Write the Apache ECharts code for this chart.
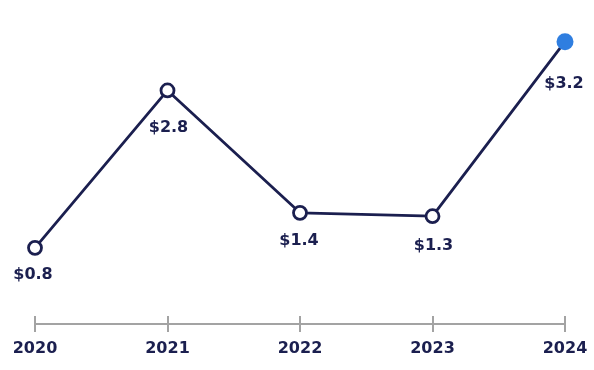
<!DOCTYPE html>
<html>
<head>
<meta charset="utf-8">
<style>
  html, body { margin: 0; padding: 0; background: #ffffff; }
  #chart { width: 594px; height: 370px; }
</style>
<script src="https://cdn.jsdelivr.net/npm/echarts@6/dist/echarts.min.js"></script>
</head>
<body>
<div id="chart"></div>
<script>
// Data
const years = ['2020', '2021', '2022', '2023', '2024'];
const values = [0.89, 2.73, 1.30, 1.26, 3.30];
const valueLabels = ['$0.8', '$2.8', '$1.4', '$1.3', '$3.2'];

// Styles (kept apart from data)
const NAVY = '#1b1f4f';
const BLUE = '#2f7ee0';
const AXIS_GREY = '#a3a3a3';
const labelOffsets = [[-2, 27], [1, 37], [-1, 28], [1, 29.5], [-1, 42]];
const FONT = '"DejaVu Sans", sans-serif';

const chart = echarts.init(document.getElementById('chart'), null, { renderer: 'canvas' });

const seriesData = values.map((v, i) => {
  const last = i === values.length - 1;
  return {
    value: v,
    symbolSize: last ? 17 : 13,
    itemStyle: last
      ? { color: BLUE, borderWidth: 0 }
      : { color: '#ffffff', borderColor: NAVY, borderWidth: 2.8 },
    label: {
      show: true,
      position: 'inside',
      offset: labelOffsets[i],
      formatter: () => valueLabels[i]
    }
  };
});

chart.setOption({
  animation: false,
  backgroundColor: '#ffffff',
  grid: { left: 35, right: 29, top: 24.6, bottom: 46, containLabel: false },
  xAxis: [{
    type: 'category',
    data: years,
    boundaryGap: false,
    position: 'bottom',
    axisLine: { show: true, lineStyle: { color: AXIS_GREY, width: 2 } },
    axisTick: { show: true, inside: false, length: 8, lineStyle: { color: AXIS_GREY, width: 2 } },
    axisLabel: {
      margin: 17,
      color: NAVY,
      fontFamily: FONT,
      fontWeight: 'bold',
      fontSize: 16
    },
    splitLine: { show: false }
  }, {
    type: 'category',
    data: years,
    boundaryGap: false,
    position: 'bottom',
    axisLine: { show: false },
    axisTick: { show: true, inside: true, length: 8, lineStyle: { color: AXIS_GREY, width: 2 } },
    axisLabel: { show: false },
    splitLine: { show: false }
  }],
  yAxis: {
    type: 'value',
    min: 0,
    max: 3.5,
    show: false,
    splitLine: { show: false }
  },
  series: [{
    type: 'line',
    xAxisIndex: 0,
    data: seriesData,
    symbol: 'circle',
    showAllSymbol: true,
    lineStyle: { color: NAVY, width: 2.8 },
    label: {
      color: NAVY,
      fontFamily: FONT,
      fontWeight: 'bold',
      fontSize: 16
    },
    z: 3
  }]
});
</script>
</body>
</html>
